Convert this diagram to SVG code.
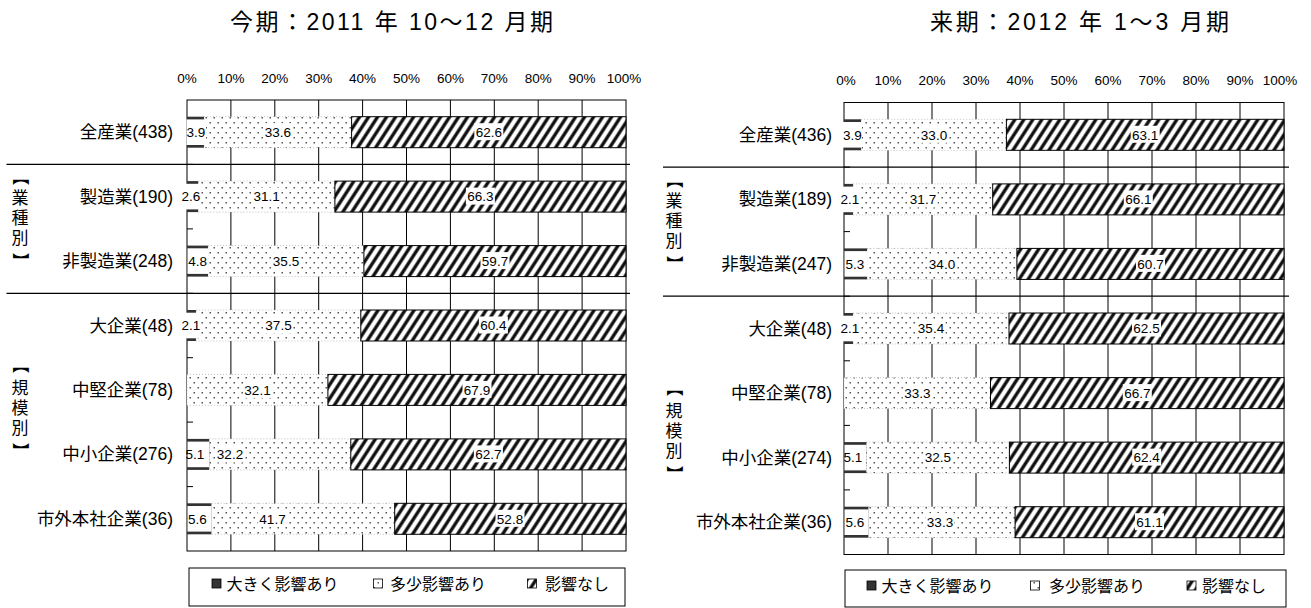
<svg xmlns="http://www.w3.org/2000/svg" width="1311" height="608" viewBox="0 0 1311 608">
<style>
text{font-family:"Liberation Sans","Noto Sans CJK JP",sans-serif;fill:#000}
.title{font-size:23px}
.tick{font-size:13.5px;text-anchor:middle}
.cat{font-size:17.5px;text-anchor:end}
.val{font-size:13.5px;text-anchor:middle}
.vlab{font-size:17px;text-anchor:middle;font-family:"Noto Sans CJK JP",sans-serif}
.leg{font-size:16px;font-family:"Noto Sans CJK JP",sans-serif}
.grid{stroke:#000;stroke-width:1;fill:none}
.sep{stroke:#000;stroke-width:1.2}
.dk{fill:#333}
.dt{fill:url(#dots);stroke:#999;stroke-width:0.6;stroke-dasharray:1 2}
.ht{fill:url(#hatch);stroke:#000;stroke-width:1}
.wb{fill:#fff}
.lbox{fill:#fff;stroke:#000;stroke-width:1}
</style>
<defs>
<pattern id="dots" patternUnits="userSpaceOnUse" width="8" height="10">
<rect width="8" height="10" fill="#fff"/>
<rect x="1.5" y="2" width="1.5" height="1.5" fill="#555"/>
<rect x="5.5" y="7" width="1.5" height="1.5" fill="#555"/>
</pattern>
<pattern id="hatch" patternUnits="userSpaceOnUse" width="9" height="9" patternTransform="skewX(-33)">
<rect width="9" height="9" fill="#fff"/>
<rect x="1" width="1" height="9" fill="#888"/>
<rect x="2" width="3" height="9" fill="#111"/>
<rect x="5" width="1" height="9" fill="#888"/>
</pattern>
</defs>
<rect width="1311" height="608" fill="#fff"/>

<!-- ===== LEFT CHART ===== -->
<g id="left-chart">
<text class="title" x="230" y="30" textLength="323" lengthAdjust="spacing">今期：2011 年 10～12 月期</text>
<g id="left-axis">
<text class="tick" x="187" y="83">0%</text>
<text class="tick" x="230.9" y="83">10%</text>
<text class="tick" x="274.8" y="83">20%</text>
<text class="tick" x="318.7" y="83">30%</text>
<text class="tick" x="362.6" y="83">40%</text>
<text class="tick" x="406.5" y="83">50%</text>
<text class="tick" x="450.4" y="83">60%</text>
<text class="tick" x="494.3" y="83">70%</text>
<text class="tick" x="538.2" y="83">80%</text>
<text class="tick" x="582.1" y="83">90%</text>
<text class="tick" x="624" y="83">100%</text>
</g>
<g id="left-grid" class="grid">
<rect x="187" y="100" width="439" height="451"/>
<path d="M230.9 100V551M274.8 100V551M318.7 100V551M362.6 100V551M406.5 100V551M450.4 100V551M494.3 100V551M538.2 100V551M582.1 100V551"/>
<path d="M187 164.4h6M187 228.9h6M187 293.3h6M187 357.7h6M187 422.1h6M187 486.6h6"/>
</g>
<g id="left-sep">
<line class="sep" x1="6.5" y1="164.4" x2="630" y2="164.4"/>
<line class="sep" x1="6.5" y1="293.3" x2="630" y2="293.3"/>
</g>
<g id="left-group1">
<text class="vlab" x="20" y="183.5" transform="rotate(90 20 177)">【</text>
<text class="vlab"><tspan x="20" y="203.5">業</tspan><tspan x="20" y="223.5">種</tspan><tspan x="20" y="243.5">別</tspan></text>
<text class="vlab" x="20" y="267.5" transform="rotate(90 20 261)">】</text>
</g>
<g id="left-group2">
<text class="vlab" x="20" y="371.5" transform="rotate(90 20 365)">【</text>
<text class="vlab"><tspan x="20" y="393.5">規</tspan><tspan x="20" y="413.5">模</tspan><tspan x="20" y="433.5">別</tspan></text>
<text class="vlab" x="20" y="457.5" transform="rotate(90 20 451)">】</text>
</g>

<g id="L1">
<text class="cat" x="173" y="138.2">全産業(438)</text>
<rect class="dk" x="187" y="116.7" width="17.1" height="31"/>
<rect class="dt" x="204.1" y="116.7" width="147.5" height="31"/>
<rect class="ht" x="351.6" y="116.7" width="274.4" height="31"/>
<rect class="wb" x="186.5" y="119.4" width="19.5" height="25.6"/>
<text class="val" x="196" y="136.9">3.9</text>
<rect class="wb" x="263.3" y="123.2" width="29" height="17"/>
<text class="val" x="277.8" y="136.9">33.6</text>
<rect class="wb" x="474.3" y="123.2" width="29" height="17"/>
<text class="val" x="488.8" y="136.9">62.6</text>
</g>
<g id="L2">
<text class="cat" x="173" y="202.6">製造業(190)</text>
<rect class="dk" x="187" y="181.1" width="11.4" height="31"/>
<rect class="dt" x="198.4" y="181.1" width="136.5" height="31"/>
<rect class="ht" x="334.9" y="181.1" width="291.1" height="31"/>
<rect class="wb" x="181.5" y="183.8" width="19" height="25.6"/>
<text class="val" x="191" y="201.3">2.6</text>
<rect class="wb" x="252.1" y="187.6" width="29" height="17"/>
<text class="val" x="266.6" y="201.3">31.1</text>
<rect class="wb" x="465.9" y="187.6" width="29" height="17"/>
<text class="val" x="480.4" y="201.3">66.3</text>
</g>
<g id="L3">
<text class="cat" x="173" y="267.1">非製造業(248)</text>
<rect class="dk" x="187" y="245.6" width="21.1" height="31"/>
<rect class="dt" x="208.1" y="245.6" width="155.8" height="31"/>
<rect class="ht" x="363.9" y="245.6" width="262.1" height="31"/>
<rect class="wb" x="187.5" y="248.3" width="21" height="25.6"/>
<text class="val" x="197.6" y="265.8">4.8</text>
<rect class="wb" x="271.5" y="252.1" width="29" height="17"/>
<text class="val" x="286" y="265.8">35.5</text>
<rect class="wb" x="480.5" y="252.1" width="29" height="17"/>
<text class="val" x="495" y="265.8">59.7</text>
</g>
<g id="L4">
<text class="cat" x="173" y="331.5">大企業(48)</text>
<rect class="dk" x="187" y="310" width="9.2" height="31"/>
<rect class="dt" x="196.2" y="310" width="164.6" height="31"/>
<rect class="ht" x="360.8" y="310" width="265.2" height="31"/>
<rect class="wb" x="181.5" y="312.7" width="19" height="25.6"/>
<text class="val" x="191" y="330.2">2.1</text>
<rect class="wb" x="264" y="316.5" width="29" height="17"/>
<text class="val" x="278.5" y="330.2">37.5</text>
<rect class="wb" x="478.9" y="316.5" width="29" height="17"/>
<text class="val" x="493.4" y="330.2">60.4</text>
</g>
<g id="L5">
<text class="cat" x="173" y="395.9">中堅企業(78)</text>
<rect class="dt" x="187" y="374.4" width="140.9" height="31"/>
<rect class="ht" x="327.9" y="374.4" width="298.1" height="31"/>
<rect class="wb" x="243" y="380.9" width="29" height="17"/>
<text class="val" x="257.5" y="394.6">32.1</text>
<rect class="wb" x="462.5" y="380.9" width="29" height="17"/>
<text class="val" x="477" y="394.6">67.9</text>
</g>
<g id="L6">
<text class="cat" x="173" y="460.4">中小企業(276)</text>
<rect class="dk" x="187" y="438.9" width="22.4" height="31"/>
<rect class="dt" x="209.4" y="438.9" width="141.4" height="31"/>
<rect class="ht" x="350.8" y="438.9" width="275.2" height="31"/>
<rect class="wb" x="187.5" y="441.6" width="21.5" height="25.6"/>
<text class="val" x="195" y="459.1">5.1</text>
<rect class="wb" x="215.5" y="445.4" width="29" height="17"/>
<text class="val" x="230" y="459.1">32.2</text>
<rect class="wb" x="473.9" y="445.4" width="29" height="17"/>
<text class="val" x="488.4" y="459.1">62.7</text>
</g>
<g id="L7">
<text class="cat" x="173" y="524.8">市外本社企業(36)</text>
<rect class="dk" x="187" y="503.3" width="24.6" height="31"/>
<rect class="dt" x="211.6" y="503.3" width="183.1" height="31"/>
<rect class="ht" x="394.7" y="503.3" width="231.3" height="31"/>
<rect class="wb" x="187.5" y="506" width="24" height="25.6"/>
<text class="val" x="197.5" y="523.5">5.6</text>
<rect class="wb" x="258" y="509.8" width="29" height="17"/>
<text class="val" x="272.5" y="523.5">41.7</text>
<rect class="wb" x="495.5" y="509.8" width="29" height="17"/>
<text class="val" x="510" y="523.5">52.8</text>
</g>
<g id="left-legend">
<rect class="lbox" x="189" y="568" width="436" height="38"/>
<rect x="212" y="579" width="9" height="9" fill="#333" stroke="#000" stroke-width="0.8"/>
<text class="leg" x="226.5" y="590">大きく影響あり</text>
<rect x="373.5" y="579" width="9" height="9" fill="url(#dots)" stroke="#000" stroke-width="0.8"/>
<text class="leg" x="390" y="590">多少影響あり</text>
<rect x="527.5" y="579" width="9" height="9" fill="url(#hatch)" stroke="#000" stroke-width="0.8"/>
<text class="leg" x="545" y="590">影響なし</text>
</g>
</g>

<!-- ===== RIGHT CHART ===== -->
<g id="right-chart">
<text class="title" x="930" y="30" textLength="299" lengthAdjust="spacing">来期：2012 年 1～3 月期</text>
<g id="right-axis">
<text class="tick" x="846" y="85">0%</text>
<text class="tick" x="888" y="85">10%</text>
<text class="tick" x="932" y="85">20%</text>
<text class="tick" x="976" y="85">30%</text>
<text class="tick" x="1020" y="85">40%</text>
<text class="tick" x="1064" y="85">50%</text>
<text class="tick" x="1108" y="85">60%</text>
<text class="tick" x="1152" y="85">70%</text>
<text class="tick" x="1196" y="85">80%</text>
<text class="tick" x="1240" y="85">90%</text>
<text class="tick" x="1280" y="85">100%</text>
</g>
<g id="right-grid" class="grid">
<rect x="844" y="102.5" width="440" height="452"/>
<path d="M888 102.5V554.5M932 102.5V554.5M976 102.5V554.5M1020 102.5V554.5M1064 102.5V554.5M1108 102.5V554.5M1152 102.5V554.5M1196 102.5V554.5M1240 102.5V554.5"/>
<path d="M844 167.1h6M844 231.6h6M844 296.2h6M844 360.8h6M844 425.4h6M844 489.9h6"/>
</g>
<g id="right-sep">
<line class="sep" x1="663" y1="167.1" x2="1289" y2="167.1"/>
<line class="sep" x1="663" y1="296.2" x2="1289" y2="296.2"/>
</g>
<g id="right-group1">
<text class="vlab" x="674" y="186.5" transform="rotate(90 674 180)">【</text>
<text class="vlab"><tspan x="674" y="207">業</tspan><tspan x="674" y="227">種</tspan><tspan x="674" y="247">別</tspan></text>
<text class="vlab" x="674" y="270.5" transform="rotate(90 674 264)">】</text>
</g>
<g id="right-group2">
<text class="vlab" x="674" y="394.5" transform="rotate(90 674 388)">【</text>
<text class="vlab"><tspan x="674" y="416.5">規</tspan><tspan x="674" y="436.5">模</tspan><tspan x="674" y="456.5">別</tspan></text>
<text class="vlab" x="674" y="480.5" transform="rotate(90 674 474)">】</text>
</g>

<g id="R1">
<text class="cat" x="832" y="140.8">全産業(436)</text>
<rect class="dk" x="844" y="119.3" width="17.2" height="31"/>
<rect class="dt" x="861.2" y="119.3" width="145.2" height="31"/>
<rect class="ht" x="1006.4" y="119.3" width="277.6" height="31"/>
<rect class="wb" x="843" y="122" width="19" height="25.6"/>
<text class="val" x="852.5" y="139.5">3.9</text>
<rect class="wb" x="919.5" y="125.8" width="29" height="17"/>
<text class="val" x="934" y="139.5">33.0</text>
<rect class="wb" x="1130.7" y="125.8" width="29" height="17"/>
<text class="val" x="1145.2" y="139.5">63.1</text>
</g>
<g id="R2">
<text class="cat" x="832" y="205.4">製造業(189)</text>
<rect class="dk" x="844" y="183.9" width="9.2" height="31"/>
<rect class="dt" x="853.2" y="183.9" width="139.5" height="31"/>
<rect class="ht" x="992.7" y="183.9" width="291.3" height="31"/>
<rect class="wb" x="840.5" y="186.6" width="19" height="25.6"/>
<text class="val" x="850" y="204.1">2.1</text>
<rect class="wb" x="908.5" y="190.4" width="29" height="17"/>
<text class="val" x="923" y="204.1">31.7</text>
<rect class="wb" x="1123.8" y="190.4" width="29" height="17"/>
<text class="val" x="1138.3" y="204.1">66.1</text>
</g>
<g id="R3">
<text class="cat" x="832" y="269.9">非製造業(247)</text>
<rect class="dk" x="844" y="248.4" width="23.3" height="31"/>
<rect class="dt" x="867.3" y="248.4" width="149.6" height="31"/>
<rect class="ht" x="1016.9" y="248.4" width="267.1" height="31"/>
<rect class="wb" x="844.5" y="251.1" width="23.3" height="25.6"/>
<text class="val" x="855" y="268.6">5.3</text>
<rect class="wb" x="927.5" y="254.9" width="29" height="17"/>
<text class="val" x="942" y="268.6">34.0</text>
<rect class="wb" x="1136" y="254.9" width="29" height="17"/>
<text class="val" x="1150.5" y="268.6">60.7</text>
</g>
<g id="R4">
<text class="cat" x="832" y="334.5">大企業(48)</text>
<rect class="dk" x="844" y="313" width="9.2" height="31"/>
<rect class="dt" x="853.2" y="313" width="155.8" height="31"/>
<rect class="ht" x="1009" y="313" width="275" height="31"/>
<rect class="wb" x="840.5" y="315.7" width="19" height="25.6"/>
<text class="val" x="850" y="333.2">2.1</text>
<rect class="wb" x="916.5" y="319.5" width="29" height="17"/>
<text class="val" x="931" y="333.2">35.4</text>
<rect class="wb" x="1132" y="319.5" width="29" height="17"/>
<text class="val" x="1146.5" y="333.2">62.5</text>
</g>
<g id="R5">
<text class="cat" x="832" y="399.1">中堅企業(78)</text>
<rect class="dt" x="844" y="377.6" width="146.5" height="31"/>
<rect class="ht" x="990.5" y="377.6" width="293.5" height="31"/>
<rect class="wb" x="902.8" y="384.1" width="29" height="17"/>
<text class="val" x="917.3" y="397.8">33.3</text>
<rect class="wb" x="1122.8" y="384.1" width="29" height="17"/>
<text class="val" x="1137.3" y="397.8">66.7</text>
</g>
<g id="R6">
<text class="cat" x="832" y="463.6">中小企業(274)</text>
<rect class="dk" x="844" y="442.1" width="22.4" height="31"/>
<rect class="dt" x="866.4" y="442.1" width="143" height="31"/>
<rect class="ht" x="1009.4" y="442.1" width="274.6" height="31"/>
<rect class="wb" x="844.5" y="444.8" width="21.5" height="25.6"/>
<text class="val" x="853" y="462.3">5.1</text>
<rect class="wb" x="923.4" y="448.6" width="29" height="17"/>
<text class="val" x="937.9" y="462.3">32.5</text>
<rect class="wb" x="1132.2" y="448.6" width="29" height="17"/>
<text class="val" x="1146.7" y="462.3">62.4</text>
</g>
<g id="R7">
<text class="cat" x="832" y="528.2">市外本社企業(36)</text>
<rect class="dk" x="844" y="506.7" width="24.6" height="31"/>
<rect class="dt" x="868.6" y="506.7" width="146.5" height="31"/>
<rect class="ht" x="1015.1" y="506.7" width="268.9" height="31"/>
<rect class="wb" x="844.5" y="509.4" width="24" height="25.6"/>
<text class="val" x="855" y="526.9">5.6</text>
<rect class="wb" x="925.5" y="513.2" width="29" height="17"/>
<text class="val" x="940" y="526.9">33.3</text>
<rect class="wb" x="1135" y="513.2" width="29" height="17"/>
<text class="val" x="1149.5" y="526.9">61.1</text>
</g>
<g id="right-legend">
<rect class="lbox" x="845" y="570" width="441" height="37"/>
<rect x="867" y="581" width="9" height="9" fill="#333" stroke="#000" stroke-width="0.8"/>
<text class="leg" x="881.5" y="592">大きく影響あり</text>
<rect x="1030.5" y="581" width="9" height="9" fill="url(#dots)" stroke="#000" stroke-width="0.8"/>
<text class="leg" x="1049" y="592">多少影響あり</text>
<rect x="1187" y="581" width="9" height="9" fill="url(#hatch)" stroke="#000" stroke-width="0.8"/>
<text class="leg" x="1202" y="592">影響なし</text>
</g>
</g>
</svg>
